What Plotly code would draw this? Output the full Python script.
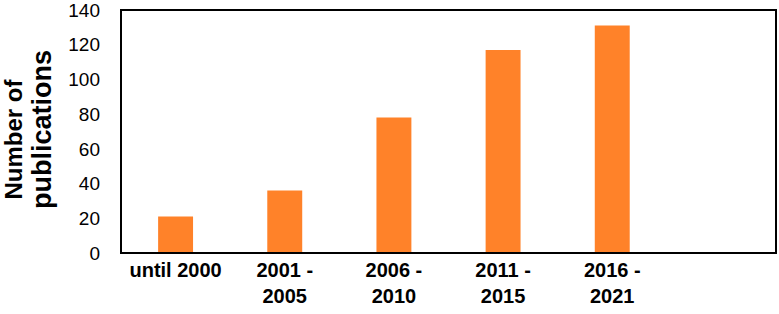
import plotly.graph_objects as go

categories = ["until 2000", "2001 -<br>2005", "2006 -<br>2010", "2011 -<br>2015", "2016 -<br>2021", " "]
values = [21, 36, 78, 117, 131, None]
y_ticks = [0, 20, 40, 60, 80, 100, 120, 140]
y_title_lines = ["Number of", "publications"]

fig = go.Figure(go.Bar(x=categories, y=values, marker_color="#FF8229", marker_line_width=0, width=0.32))

fig.update_layout(
    width=779, height=314,
    margin=dict(l=121, r=3, t=10, b=61),
    paper_bgcolor="white", plot_bgcolor="white",
    font=dict(family="Liberation Sans, Arial, sans-serif", color="black"),
    showlegend=False,
)
fig.update_xaxes(
    showline=False, showgrid=False, ticks="",
    tickfont=dict(size=20, family="Liberation Sans, Arial", weight="bold"),
    tickangle=0, automargin=False, ticklabelstandoff=3,
)
fig.update_yaxes(
    range=[0, 140], tickvals=y_ticks, showline=False,
    showgrid=False, ticks="", tickfont=dict(size=19), ticklabelstandoff=20,
    zeroline=False, automargin=False, ticklabeloverflow="allow",
)
fig.add_shape(type="rect", xref="paper", yref="paper", x0=0, x1=1, y0=0, y1=1,
              line=dict(color="black", width=2), fillcolor="rgba(0,0,0,0)", layer="above")

# y-axis title lines: (size, x centre px, y centre px)
title_specs = [(24, 13, 139.5), (27, 42, 130)]
plot_h = 314 - 10 - 61
for txt, (sz, xpx, ypx) in zip(y_title_lines, title_specs):
    fig.add_annotation(
        text="<b>" + txt + "</b>", textangle=-90, showarrow=False,
        xref="paper", yref="paper", x=0, y=(314 - 61 - ypx) / plot_h,
        xanchor="center", yanchor="middle", borderpad=0,
        xshift=xpx - 121, font=dict(size=sz, family="Liberation Sans, Arial"),
    )
fig.write_html("out.html", config={"displayModeBar": False},
               post_script="document.body.style.margin='0';")
